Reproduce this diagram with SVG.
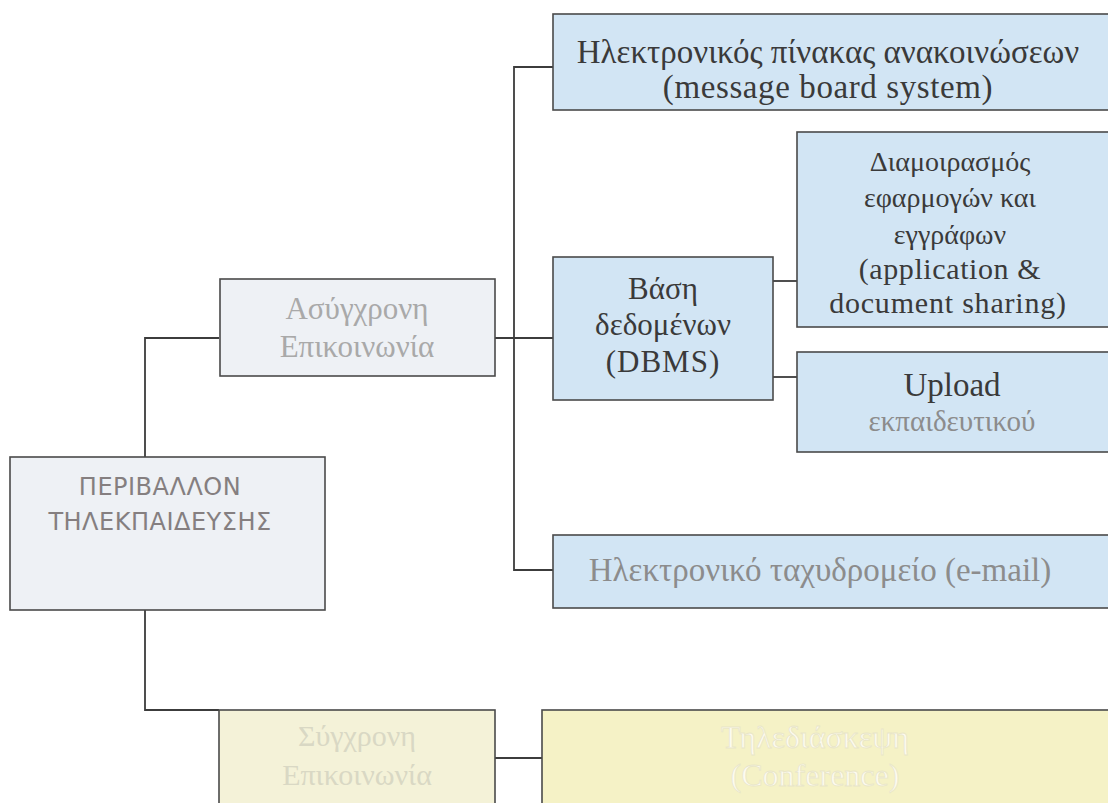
<svg xmlns="http://www.w3.org/2000/svg" width="1108" height="803" viewBox="0 0 1108 803">
<style>
.box{stroke:#4a4a4a;stroke-width:1.6}
.blue{fill:#d2e5f4}
.pale{fill:#eef1f5}
.yel{fill:#f4f2d8}
.yel2{fill:#f5f2c6}
.ser{font-family:"Liberation Serif","Noto Serif",serif;text-anchor:middle}
.dark{fill:#3a3a3a}
.gray{fill:#a9a9a9}
.mgray{fill:#8c8c8c}
.sans{font-family:"DejaVu Sans","Liberation Sans",sans-serif;text-anchor:middle;fill:#857f80}
.conn{fill:none;stroke:#3c3c3c;stroke-width:1.8}
</style>
<rect width="1108" height="803" fill="#ffffff"/>
<g id="connectors">
<path class="conn" d="M219,338 H145 V457"/>
<path class="conn" d="M145,610 V710 H219"/>
<path class="conn" d="M495,338 H553"/>
<path class="conn" d="M553,67 H514 V570 H553"/>
<path class="conn" d="M773,281 H797"/>
<path class="conn" d="M773,377 H797"/>
<path class="conn" d="M495,758 H542"/>
</g>
<g id="n_board">
<rect class="box blue" x="553" y="14" width="560" height="96"/>
<text class="ser dark" x="828" y="63" font-size="33">Ηλεκτρονικός πίνακας ανακοινώσεων</text>
<text class="ser dark" x="828" y="98" font-size="33" letter-spacing="0.6">(message board system)</text>
</g>
<g id="n_async">
<rect class="box pale" x="220" y="279" width="275" height="97"/>
<text class="ser gray" x="357" y="319" font-size="31">Ασύγχρονη</text>
<text class="ser gray" x="357" y="357" font-size="31">Επικοινωνία</text>
</g>
<g id="n_dbms">
<rect class="box blue" x="553" y="257" width="220" height="143"/>
<text class="ser dark" x="663" y="299" font-size="31">Βάση</text>
<text class="ser dark" x="663" y="335" font-size="31">δεδομένων</text>
<text class="ser dark" x="663" y="372" font-size="31" letter-spacing="1">(DBMS)</text>
</g>
<g id="n_share">
<rect class="box blue" x="797" y="132" width="316" height="195"/>
<text class="ser dark" x="950" y="171" font-size="28">Διαμοιρασμός</text>
<text class="ser dark" x="950" y="207" font-size="28">εφαρμογών και</text>
<text class="ser dark" x="950" y="244" font-size="28">εγγράφων</text>
<text class="ser dark" x="950" y="279" font-size="30" letter-spacing="0.6">(application &amp;</text>
<text class="ser dark" x="948" y="313" font-size="30" letter-spacing="0.8">document sharing)</text>
</g>
<g id="n_upload">
<rect class="box blue" x="797" y="352" width="316" height="100"/>
<text class="ser dark" x="952" y="396" font-size="33">Upload</text>
<text class="ser mgray" x="952" y="431" font-size="29">εκπαιδευτικού</text>
</g>
<g id="n_root">
<rect class="box pale" x="10" y="457" width="315" height="153"/>
<text class="sans" x="160" y="495" font-size="24" letter-spacing="0.5">ΠΕΡΙΒΑΛΛΟΝ</text>
<text class="sans" x="160" y="530" font-size="24" letter-spacing="0.5">ΤΗΛΕΚΠΑΙΔΕΥΣΗΣ</text>
</g>
<g id="n_email">
<rect class="box blue" x="553" y="535" width="560" height="73"/>
<text class="ser mgray" x="820" y="581" font-size="33">Ηλεκτρονικό ταχυδρομείο (e-mail)</text>
</g>
<g id="n_sync">
<rect class="box yel" x="219" y="710" width="276" height="100"/>
<text class="ser" x="357" y="746" font-size="30" fill="#d9d8c4">Σύγχρονη</text>
<text class="ser" x="357" y="785" font-size="30" fill="#d9d8c4">Επικοινωνία</text>
</g>
<g id="n_conf">
<rect class="box yel2" x="542" y="710" width="571" height="100"/>
<text class="ser" x="815" y="748" font-size="32" fill="#fdfbf0" stroke="#e9e6c8" stroke-width="0.8">Τηλεδιάσκεψη</text>
<text class="ser" x="815" y="786" font-size="32" fill="#fdfbf0" stroke="#e9e6c8" stroke-width="0.8">(Conference)</text>
</g>
</svg>
